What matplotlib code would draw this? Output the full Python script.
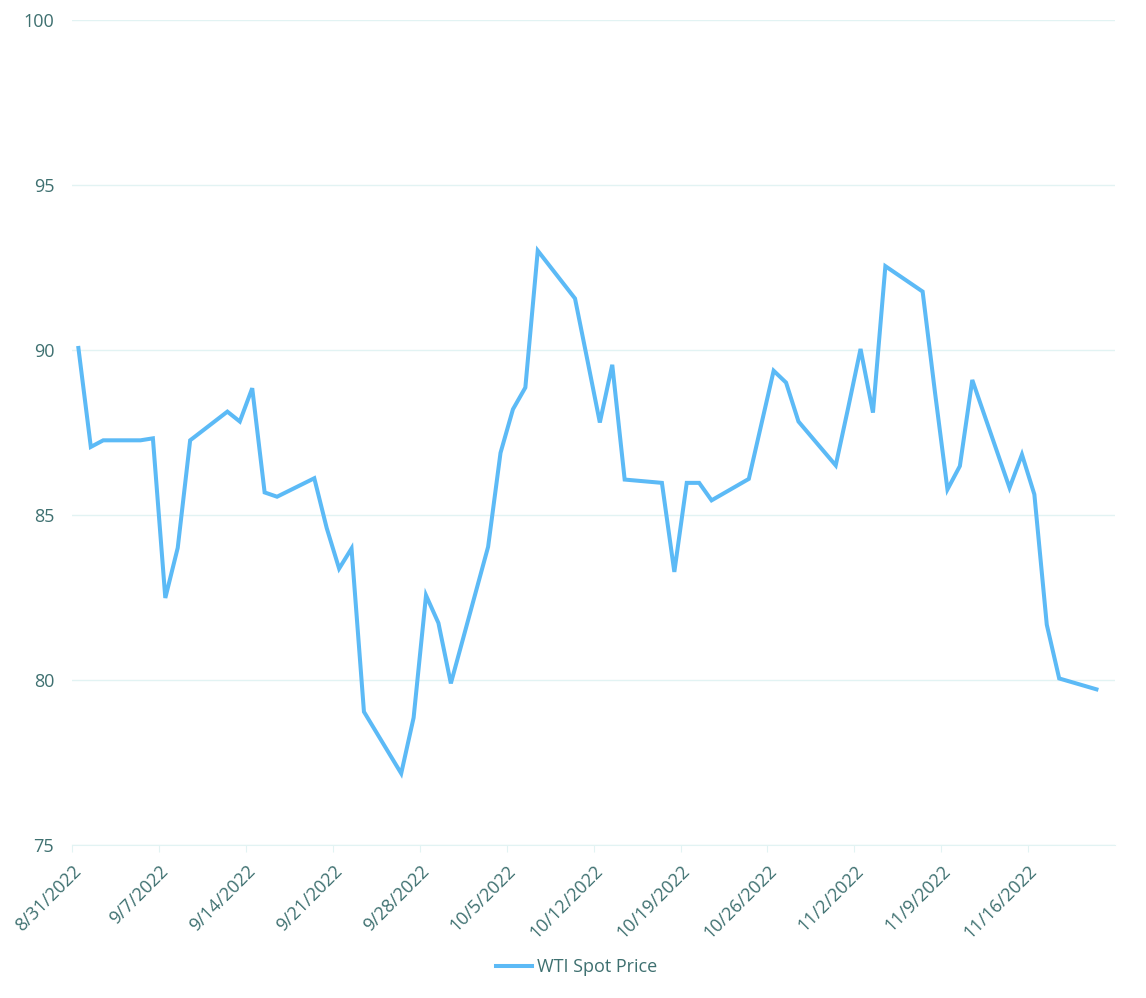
import numpy as np
import pandas as pd
import matplotlib
matplotlib.use('Agg')
import matplotlib.pyplot as plt
import matplotlib.transforms as mtransforms

# Data
dates = ['8/31/2022', '9/1/2022', '9/2/2022', '9/5/2022', '9/6/2022', '9/7/2022',
         '9/8/2022', '9/9/2022', '9/12/2022', '9/13/2022', '9/14/2022', '9/15/2022',
         '9/16/2022', '9/19/2022', '9/20/2022', '9/21/2022', '9/22/2022', '9/23/2022',
         '9/26/2022', '9/27/2022', '9/28/2022', '9/29/2022', '9/30/2022',
         '10/3/2022', '10/4/2022', '10/5/2022', '10/6/2022', '10/7/2022',
         '10/10/2022', '10/11/2022', '10/12/2022', '10/13/2022', '10/14/2022',
         '10/17/2022', '10/18/2022', '10/19/2022', '10/20/2022', '10/21/2022',
         '10/24/2022', '10/25/2022', '10/26/2022', '10/27/2022', '10/28/2022',
         '10/31/2022', '11/1/2022', '11/2/2022', '11/3/2022', '11/4/2022',
         '11/7/2022', '11/8/2022', '11/9/2022', '11/10/2022', '11/11/2022',
         '11/14/2022', '11/15/2022', '11/16/2022', '11/17/2022', '11/18/2022',
         '11/21/2022']
wti = [90.07, 87.07, 87.27, 87.27, 87.33, 82.49,
       84.01, 87.27, 88.14, 87.84, 88.85, 85.69,
       85.56, 86.12, 84.61, 83.38, 83.99, 79.04,
       77.17, 78.86, 82.57, 81.73, 79.90,
       84.04, 86.89, 88.21, 88.87, 93.02,
       91.57, 89.70, 87.81, 89.56, 86.08,
       85.98, 83.28, 85.98, 85.98, 85.45,
       86.10, 87.74, 89.38, 89.02, 87.84,
       86.51, 88.25, 90.04, 88.11, 92.55,
       91.78, 88.71, 85.78, 86.49, 89.10,
       85.83, 86.84, 85.63, 81.68, 80.05,
       79.72]
tick_dates = ['8/31/2022', '9/7/2022', '9/14/2022', '9/21/2022', '9/28/2022',
              '10/5/2022', '10/12/2022', '10/19/2022', '10/26/2022', '11/2/2022',
              '11/9/2022', '11/16/2022']
y_ticks = [75, 80, 85, 90, 95, 100]

line_color = '#5cbaf6'
text_color = '#3e7070'
grid_color = '#e2f3f3'

plt.rcParams['font.family'] = ['Open Sans', 'DejaVu Sans']

fig = plt.figure(figsize=(11.46, 9.98), dpi=100)
ax = fig.add_axes([0.063, 0.1533, 0.910, 0.8262])

# points sit in the middle of each day, ticks at day start
x = pd.to_datetime(dates, format='%m/%d/%Y') + pd.Timedelta(hours=12)
ax.plot(x, wti, color=line_color, linewidth=2.9, solid_joinstyle='miter',
        label='WTI Spot Price')

ticks = pd.to_datetime(tick_dates, format='%m/%d/%Y')
ax.set_xticks(ticks)
ax.set_xticklabels(tick_dates, rotation=45, ha='right', rotation_mode='anchor',
                   color=text_color, fontsize=13)
ax.set_xlim(pd.Timestamp('2022-08-31'), pd.Timestamp('2022-11-23'))

# nudge the rotated labels a little right, like the original
shift = mtransforms.ScaledTranslation(7 / 100, 0, fig.dpi_scale_trans)
for lbl in ax.get_xticklabels():
    lbl.set_transform(lbl.get_transform() + shift)

ax.set_ylim(75, 100)
ax.set_yticks(y_ticks)
ax.set_yticklabels([str(v) for v in y_ticks], color=text_color, fontsize=13)

ax.grid(axis='y', color=grid_color, linewidth=1)
ax.set_axisbelow(True)
for side in ['top', 'right', 'left']:
    ax.spines[side].set_visible(False)
ax.spines['bottom'].set_color(grid_color)
ax.tick_params(axis='y', length=0, pad=13)
ax.tick_params(axis='x', length=5, color=grid_color, pad=7)

fig.legend(loc='center', bbox_to_anchor=(0.503, 0.031), frameon=False,
           fontsize=13, labelcolor=text_color, handlelength=2.0,
           handletextpad=0.3)

fig.savefig('out.png', dpi=100)
